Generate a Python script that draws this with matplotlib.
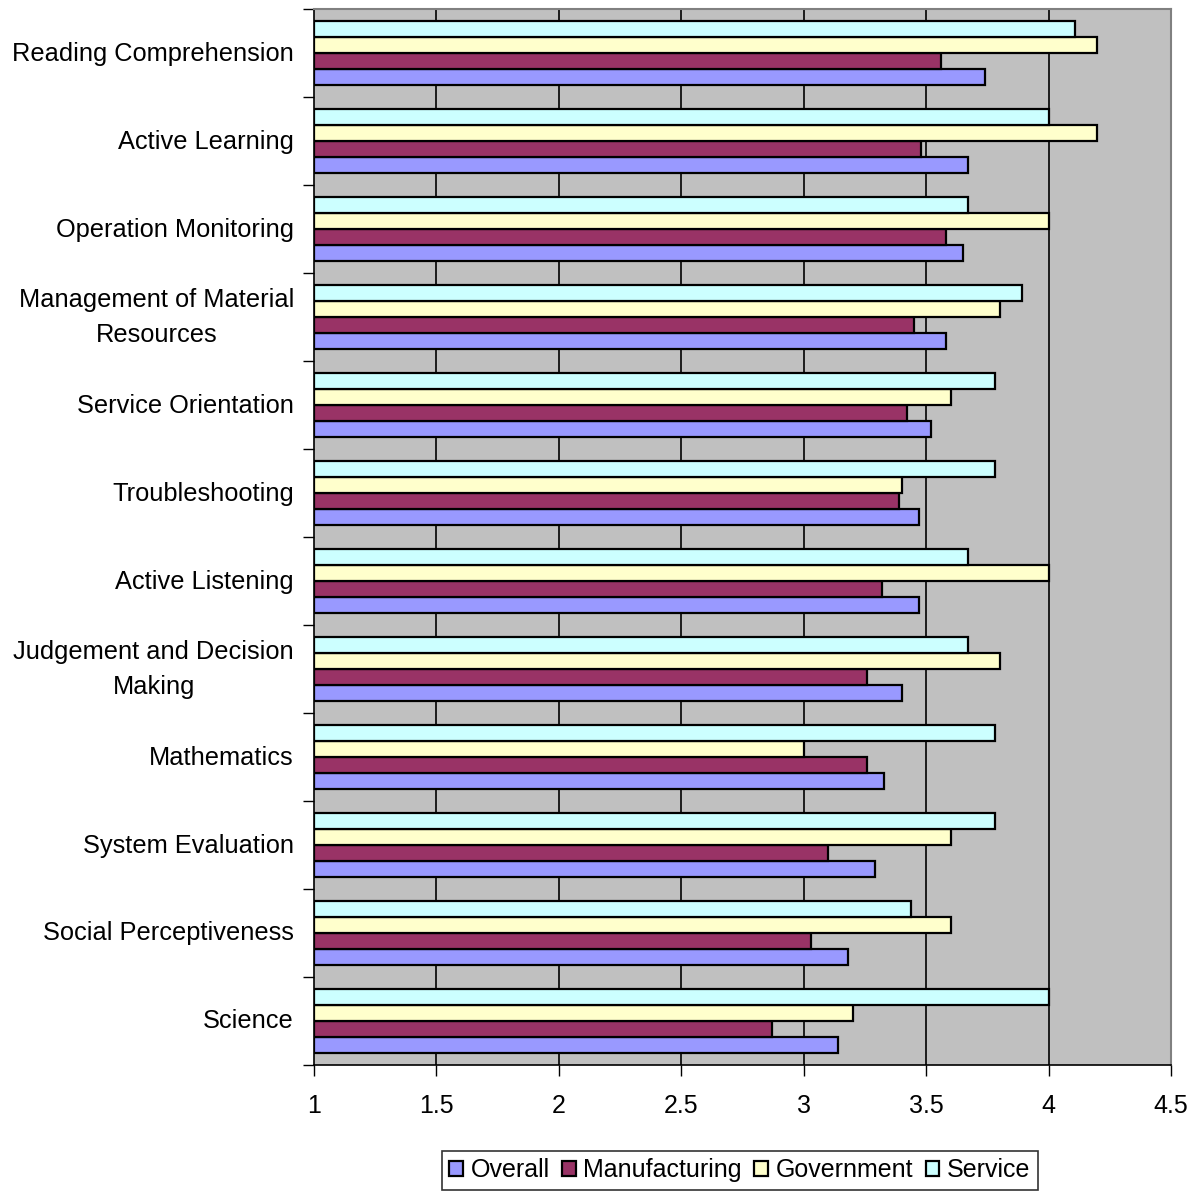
import numpy as np
import matplotlib
matplotlib.use('Agg')
import matplotlib.pyplot as plt
from matplotlib.transforms import ScaledTranslation

plt.rcParams['font.family'] = ['Liberation Sans', 'DejaVu Sans']

skills = ['Reading Comprehension', 'Active Learning', 'Operation Monitoring',
          'Management of Material\nResources', 'Service Orientation',
          'Troubleshooting', 'Active Listening',
          'Judgement and Decision\nMaking', 'Mathematics', 'System Evaluation',
          'Social Perceptiveness', 'Science']

overall = [3.74, 3.67, 3.65, 3.58, 3.52, 3.47, 3.47, 3.40, 3.33, 3.29, 3.18, 3.14]
manufacturing = [3.56, 3.48, 3.58, 3.45, 3.42, 3.39, 3.32, 3.26, 3.26, 3.10, 3.03, 2.87]
government = [4.2, 4.2, 4.0, 3.8, 3.6, 3.4, 4.0, 3.8, 3.0, 3.6, 3.6, 3.2]
service = [4.11, 4.0, 3.67, 3.89, 3.78, 3.78, 3.67, 3.67, 3.78, 3.78, 3.44, 4.0]

series = [('Overall', overall, '#9999FF'),
          ('Manufacturing', manufacturing, '#993366'),
          ('Government', government, '#FFFFCC'),
          ('Service', service, '#CCFFFF')]

fig = plt.figure(figsize=(11.99, 11.91), dpi=100)
ax = fig.add_axes([0.2619, 0.1058, 0.7147, 0.8866])
ax.set_facecolor('#C0C0C0')

y = np.arange(len(skills))
h = 0.182
offsets = [1.5, 0.5, -0.5, -1.5]
base = 1.0
for (name, vals, col), off in zip(series, offsets):
    ax.barh(y + off * h, np.array(vals) - base, left=base, height=h,
            color=col, edgecolor='black', linewidth=1.6, label=name, zorder=3)

ax.set_xlim(1, 4.5)
ax.set_ylim(len(skills) - 0.5, -0.5)
ax.set_xticks(np.arange(1, 4.51, 0.5))
ax.set_xticklabels(['1', '1.5', '2', '2.5', '3', '3.5', '4', '4.5'], fontsize=18)
for xv in np.arange(1.5, 4.4, 0.5):
    ax.axvline(xv, color='black', linewidth=1.2, zorder=1)

ax.set_yticks(np.arange(-0.5, len(skills), 1.0))
ax.set_yticklabels([])
ax.set_yticks(y, minor=True)
labels = ax.set_yticklabels(skills, minor=True, fontsize=18.3,
                            multialignment='center', linespacing=1.6)
ax.tick_params(axis='y', which='minor', length=0, pad=14.5)
ax.tick_params(axis='y', which='major', length=8, width=1, direction='out')
ax.tick_params(axis='x', length=8, width=1, direction='out', pad=13)

# nudge labels up a little; two-line labels sit lower by default
for lab in labels:
    dy = 8 if '\n' in lab.get_text() else 2
    lab.set_transform(lab.get_transform() +
                      ScaledTranslation(0, dy / 100, fig.dpi_scale_trans))

for side in ['top', 'right']:
    ax.spines[side].set_color('#808080')
    ax.spines[side].set_linewidth(1.5)
for side in ['left', 'bottom']:
    ax.spines[side].set_color('black')
    ax.spines[side].set_linewidth(1.2)

leg = fig.legend(loc='lower center', bbox_to_anchor=(0.617, 0.0), ncol=4,
                 fontsize=18, frameon=True, fancybox=False, handlelength=0.55,
                 handleheight=0.55, handletextpad=0.3, columnspacing=0.5,
                 borderpad=0.3, borderaxespad=0.05)
leg.get_frame().set_edgecolor('black')
leg.get_frame().set_linewidth(1.2)

fig.savefig('out.png', dpi=100, facecolor='white')
